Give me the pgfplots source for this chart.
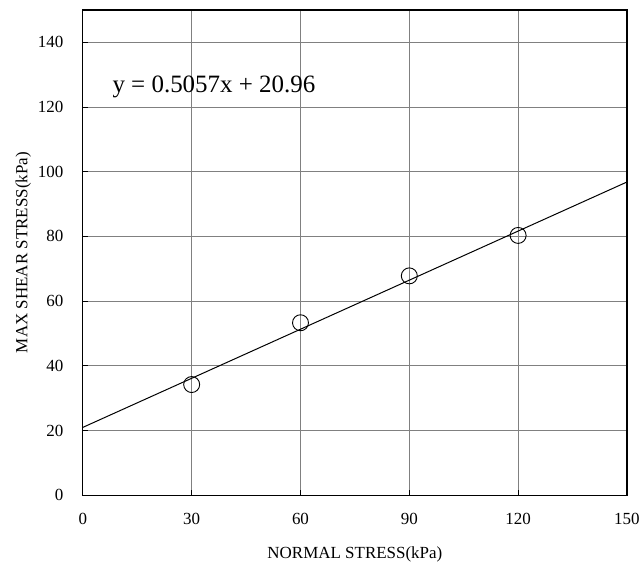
\documentclass[border=0pt]{standalone}
\usepackage{fontspec}
\setmainfont{Liberation Serif}
\usepackage{pgfplots}
\pgfplotsset{compat=1.18}
\begin{document}
\begin{tikzpicture}
\begin{axis}[
  scale only axis,
  width=545pt, height=486pt,
  xmin=0, xmax=150, ymin=0, ymax=150,
  xtick={0,30,60,90,120,150},
  ytick={0,20,40,60,80,100,120,140},
  grid=major,
  major grid style={draw=black!50, line width=0.8pt},
  axis line style={draw=black, line width=1.2pt},
  tick align=inside,
  tick pos=left,
  major tick length=5pt,
  tick style={draw=black, line width=0.8pt},
  /pgf/number format/assume math mode=true,
  ticklabel style={font=\fontsize{17pt}{20pt}\selectfont},
  yticklabel style={xshift=-16pt},
  xticklabel style={yshift=-15pt},
  xlabel={NORMAL STRESS(kPa)},
  ylabel={MAX SHEAR STRESS(kPa)},
  label style={font=\fontsize{17pt}{20pt}\selectfont},
  xlabel style={yshift=-15pt},
  ylabel style={yshift=0pt},
  clip=false,
]
\addplot[black, line width=1pt, no marks] coordinates {(0,20.96) (150,96.815)};
\addplot[only marks, mark=o, mark size=8pt, mark options={draw=black, fill=white, line width=0.9pt}]
  coordinates {(30,34.2) (60,53.3) (90,67.8) (120,80.3)};
\node[anchor=west, font=\fontsize{25pt}{29pt}\selectfont] at (axis cs:7.2,126.2) {y = 0.5057x + 20.96};
\end{axis}
\path (current axis.south west) ++(-83pt,-75pt) rectangle ++(643pt,571pt);
\end{tikzpicture}
\end{document}
